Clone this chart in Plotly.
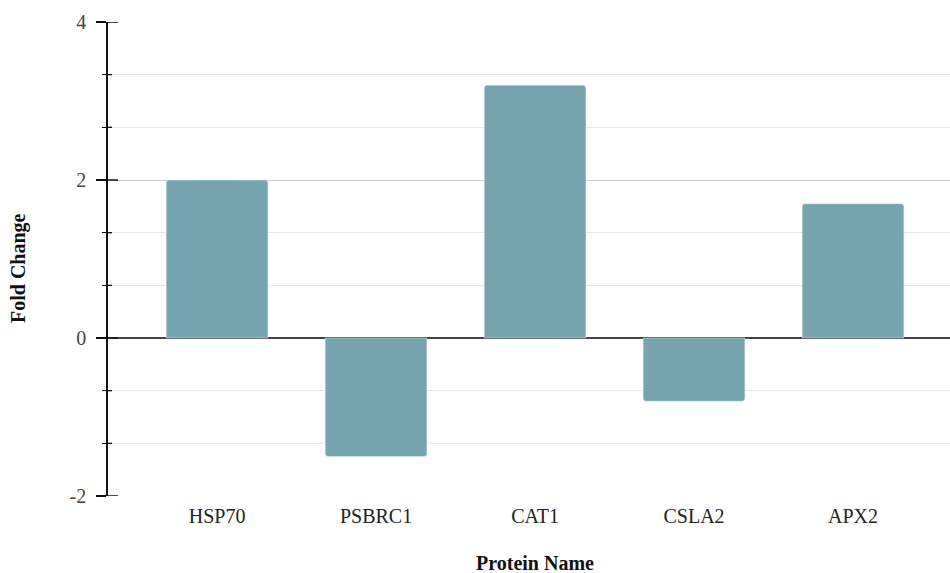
import plotly.graph_objects as go

proteins = ["HSP70", "PSBRC1", "CAT1", "CSLA2", "APX2"]
fold_change = [2.0, -1.5, 3.2, -0.8, 1.7]
y_tick_vals = [-2, 0, 2, 4]
y_tick_text = ["-2", "0", "2", "4"]
y_minor_step = 2 / 3

FONT = "Liberation Serif, Times New Roman, serif"
BAR = "#76a5af"
PLOT_W = 842

fig = go.Figure()
fig.add_trace(go.Bar(x=proteins, y=fold_change, marker=dict(color=BAR, cornerradius=3),
                     hoverinfo="x+y"))

# inner half of the crossing ticks on the y axis
shapes = []
for v in y_tick_vals:
    shapes.append(dict(type="line", xref="paper", yref="y", x0=0, x1=10 / PLOT_W,
                       y0=v, y1=v, line=dict(color="#111", width=1.5), layer="above"))
k = -3
while -2 + (k + 3) * y_minor_step <= 4.001:
    v = round(-2 + (k + 3) * y_minor_step, 6)
    if all(abs(v - t) > 1e-3 for t in y_tick_vals):
        shapes.append(dict(type="line", xref="paper", yref="y", x0=0, x1=4 / PLOT_W,
                           y0=v, y1=v, line=dict(color="#111", width=1.3), layer="above"))
    k += 1

fig.update_layout(
    width=950, height=573,
    margin=dict(l=108, r=0, t=22, b=77),
    paper_bgcolor="white", plot_bgcolor="white",
    font=dict(family=FONT, size=20, color="#222"),
    bargap=0.36,
    showlegend=False,
    shapes=shapes,
    xaxis=dict(range=[-0.686, 4.61], showgrid=False, showline=False, ticks="",
               tickfont=dict(size=20, color="#222"), ticklabelstandoff=6,
               fixedrange=True),
    yaxis=dict(range=[-2, 4], tickvals=y_tick_vals, ticktext=y_tick_text,
               ticks="outside", ticklen=10, tickwidth=1.5, tickcolor="#111",
               showline=True, linecolor="#111", linewidth=1.5,
               showgrid=True, gridcolor="#cccccc", gridwidth=1.3,
               zeroline=True, zerolinecolor="#444", zerolinewidth=1.5,
               minor=dict(dtick=y_minor_step, tick0=0, ticks="outside", ticklen=4,
                          tickwidth=1.3, tickcolor="#111",
                          showgrid=True, gridcolor="#e6e6e6", gridwidth=1),
               tickfont=dict(size=20, color="#444"), ticklabelstandoff=6,
               fixedrange=True),
    annotations=[
        dict(text="<b>Protein Name</b>", xref="paper", yref="paper",
             x=(535 - 108) / PLOT_W, y=-(563 - 496) / 474, xanchor="center", yanchor="middle",
             showarrow=False, font=dict(size=20, color="#111", family=FONT)),
        dict(text="<b>Fold Change</b>", xref="paper", yref="paper",
             x=-(108 - 18) / PLOT_W, y=(496 - 268) / 474, xanchor="center", yanchor="middle",
             textangle=-90, showarrow=False, font=dict(size=20, color="#111", family=FONT)),
    ],
)

fig.write_html("out.html", post_script="document.body.style.margin='0';",
               config={"displayModeBar": False})
